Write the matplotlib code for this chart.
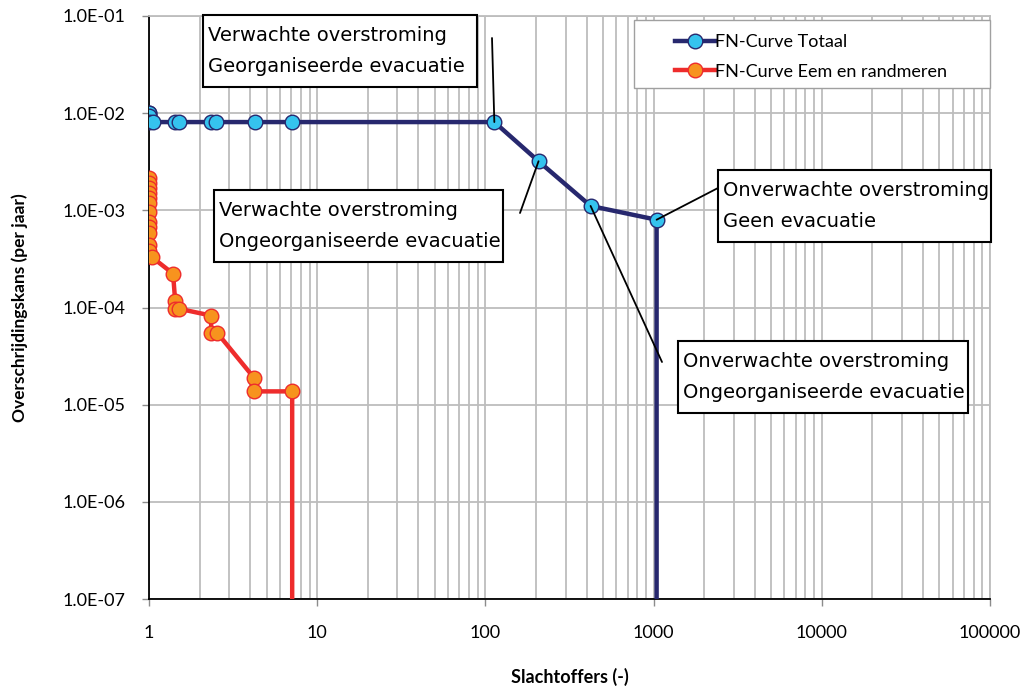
import math
import matplotlib
matplotlib.use("Agg")
import matplotlib.pyplot as plt
from matplotlib.patches import Rectangle
from matplotlib.ticker import FuncFormatter, LogLocator, NullFormatter

# FN-curve data
totaal_x = [1, 1, 1, 1.05, 1.43, 1.51, 2.34, 2.5, 4.28, 7.1, 113, 207, 422, 1042, 1042]
totaal_y = [1.0e-2, 9.4e-3, 8.2e-3, 8.1e-3, 8.1e-3, 8.1e-3, 8.1e-3, 8.1e-3, 8.1e-3, 8.1e-3,
            8.1e-3, 3.2e-3, 1.11e-3, 8.0e-4, 1e-7]

eem_x = [1, 1, 1, 1, 1, 1, 1, 1, 1, 1, 1, 1, 1.04, 1.39, 1.43, 1.43, 1.51, 2.34, 2.34,
         2.54, 4.2, 4.2, 7.1, 7.1]
eem_y = [2.16e-3, 1.92e-3, 1.71e-3, 1.52e-3, 1.35e-3, 1.2e-3, 9.7e-4, 7.5e-4, 6.8e-4,
         5.9e-4, 4.4e-4, 3.8e-4, 3.3e-4, 2.23e-4, 1.18e-4, 9.75e-5, 9.7e-5, 8.26e-5, 5.5e-5,
         5.5e-5, 1.9e-5, 1.37e-5, 1.37e-5, 1e-7]

x_ticks = [1, 10, 100, 1000, 10000, 100000]
y_ticks = [1e-7, 1e-6, 1e-5, 1e-4, 1e-3, 1e-2, 1e-1]

labels_txt = ["Verwachte overstroming\nGeorganiseerde evacuatie",
              "Verwachte overstroming\nOngeorganiseerde evacuatie",
              "Onverwachte overstroming\nGeen evacuatie",
              "Onverwachte overstroming\nOngeorganiseerde evacuatie"]

W, H = 1024, 691
fig = plt.figure(figsize=(W / 100, H / 100), dpi=100)
ax = fig.add_axes([149 / W, 1 - 599 / H, (990 - 149) / W, (599 - 16) / H])

navy = "#27286E"
cyan = "#35C3EE"
red = "#EE2C2C"
orange = "#F7931E"
grid = "#BDBDBD"

ax.plot(totaal_x, totaal_y, color=navy, lw=3.2, marker="o", ms=10.5,
        mfc=cyan, mec=navy, mew=1.0, markevery=list(range(len(totaal_x) - 1)),
        label="FN-Curve Totaal", zorder=4)
# stacked markers at the top of the x=1 column show up dark in the original
ax.plot(totaal_x[:2], totaal_y[:2], ls="none", marker="o", ms=10.5,
        mfc=navy, mec=navy, zorder=3.9)
ax.plot(eem_x, eem_y, color=red, lw=3.2, marker="o", ms=10.5,
        mfc=orange, mec=red, mew=1.0, markevery=list(range(len(eem_x) - 1)),
        label="FN-Curve Eem en randmeren", zorder=4)

ax.set_xscale("log")
ax.set_yscale("log")
ax.set_xlim(1, 100000)
ax.set_ylim(1e-7, 1e-1)
ax.set_xticks(x_ticks)
ax.set_yticks(y_ticks)
ax.xaxis.set_minor_locator(LogLocator(base=10, subs=range(2, 10), numticks=20))
ax.xaxis.set_minor_formatter(NullFormatter())
ax.yaxis.set_minor_locator(plt.NullLocator())
ax.xaxis.set_major_formatter(FuncFormatter(lambda v, p: "%d" % round(v)))
ax.yaxis.set_major_formatter(FuncFormatter(lambda v, p: "1.0E-%02d" % round(-math.log10(v))))

ax.grid(True, which="major", axis="both", color=grid, lw=1.3, zorder=0)
ax.grid(True, which="minor", axis="x", color=grid, lw=1.3, zorder=0)
ax.set_axisbelow(True)
ax.tick_params(which="major", length=5, color="#8C8C8C", width=1.0,
               labelsize=13, pad=12)
ax.tick_params(axis="x", pad=14)
ax.tick_params(which="minor", length=0)
for lab in ax.get_xticklabels() + ax.get_yticklabels():
    lab.set_family("Lato")

for side in ["top", "right"]:
    ax.spines[side].set_color(grid)
    ax.spines[side].set_linewidth(1.3)
for side in ["left", "bottom"]:
    ax.spines[side].set_color("black")
    ax.spines[side].set_linewidth(1.3)

ax.set_xlabel("Slachtoffers (-)", family="Lato", fontweight="bold", fontsize=13,
              labelpad=19)
ax.set_ylabel("Overschrijdingskans (per jaar)", family="Lato", fontweight="bold",
              fontsize=12.5, labelpad=25)

# legend frame drawn separately to get the wide left margin
fig.patches.append(Rectangle((634 / W, 1 - 88 / H), (990 - 634) / W, (88 - 20) / H,
                             transform=fig.transFigure, facecolor="white",
                             edgecolor="#A0A0A0", lw=1.0, zorder=5))
leg = fig.legend(*ax.get_legend_handles_labels(), loc="upper left",
                 bbox_to_anchor=(659 / W, 1 - 18 / H),
                 prop={"family": "Lato", "size": 13}, frameon=False,
                 handlelength=2.2, handletextpad=0.0, borderpad=0.4, labelspacing=0.75)
leg.set_zorder(6)

# annotation boxes (pixel coords, top-left origin)
boxes = [(203, 15, 477, 87), (214, 190, 503, 262), (718, 170, 991, 242), (678, 341, 968, 413)]
for (x0, y0, x1, y1), txt in zip(boxes, labels_txt):
    fig.patches.append(Rectangle((x0 / W, 1 - y1 / H), (x1 - x0) / W, (y1 - y0) / H,
                                 transform=fig.transFigure, facecolor="white",
                                 edgecolor="black", lw=1.5, zorder=7))
    fig.text((x0 + 5) / W, 1 - (y0 + y1) / 2 / H, txt, ha="left", va="center",
             fontsize=14, family="DejaVu Sans", linespacing=1.85, zorder=8)

# leader lines from box area to curve points
leaders = [((492, 38), (113, 8.1e-3)), ((520, 213), (207, 3.2e-3)),
           ((718, 188), (1042, 8.0e-4)), ((662, 362), (422, 1.11e-3))]
for (px, py), xy in leaders:
    ax.annotate("", xy=xy, xycoords="data", xytext=(px, H - py),
                textcoords="figure pixels",
                arrowprops=dict(arrowstyle="-", color="black", lw=1.3,
                                shrinkA=0, shrinkB=0), zorder=5)

fig.savefig("out.png", dpi=100)
